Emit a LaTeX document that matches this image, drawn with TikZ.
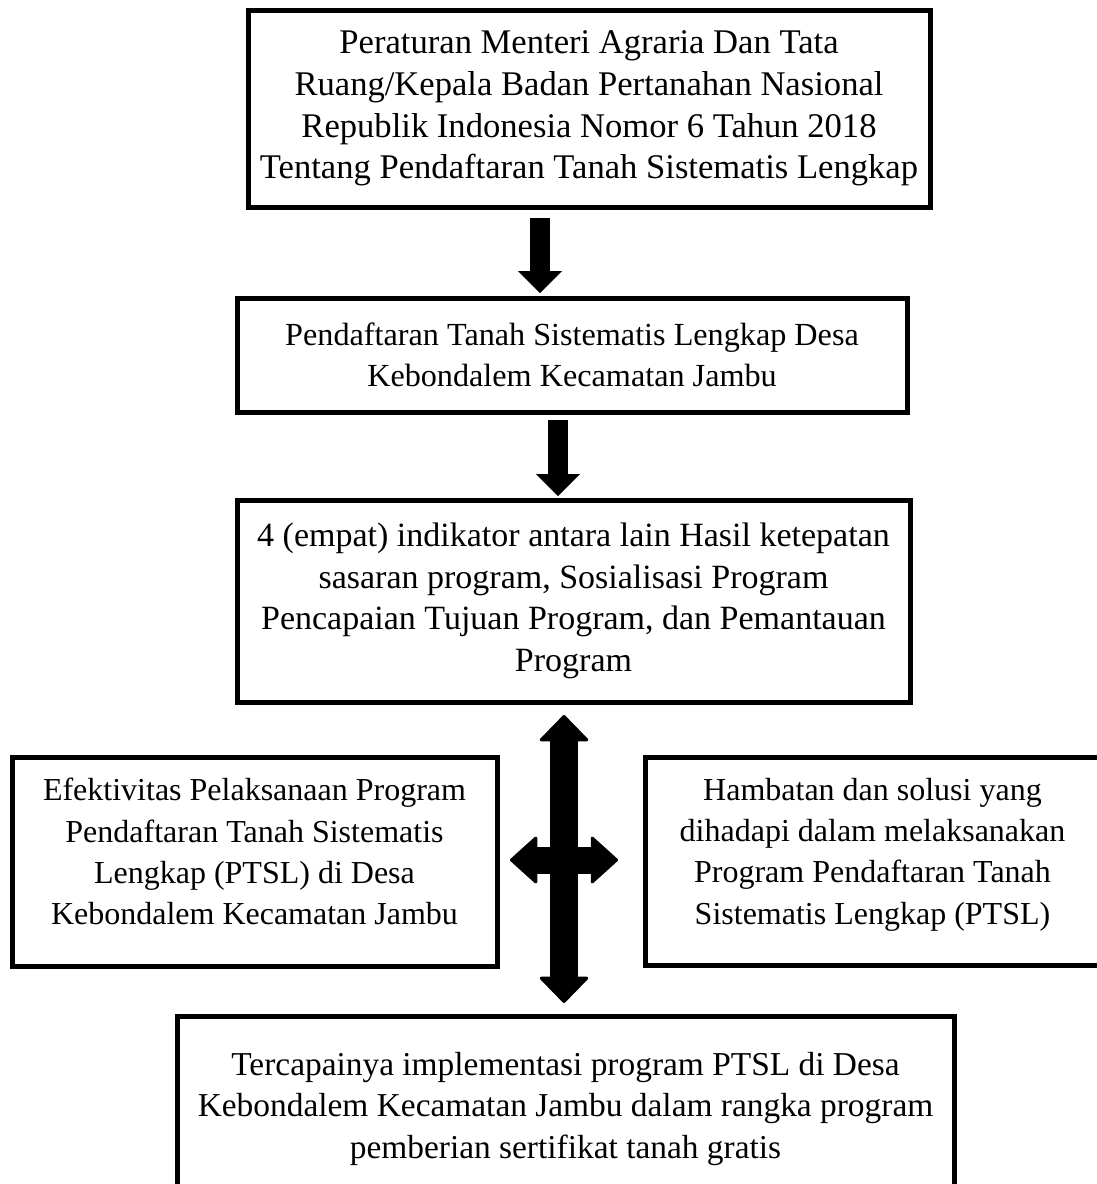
\documentclass[tikz,border=0pt]{standalone}
\usepackage{fontspec}
\setmainfont{Liberation Serif}
\usetikzlibrary{arrows.meta}

\begin{document}
\begin{tikzpicture}[
    x=0.5pt, y=-0.5pt,
    box/.style={rectangle, draw, line width=2.5pt, align=center, inner sep=0pt, font=\fontsize{16.8}{20.8}\selectfont},
    sidebox/.style={box, text depth=10pt, font=\fontsize{16}{20.7}\selectfont},
    blockdown/.style={line width=10pt, -{Triangle[width=22pt, length=11pt, line width=0pt]}},
    blockboth/.style={line width=14pt, {Triangle[round, width=26pt, length=13.5pt, line width=1.5pt]}-{Triangle[round, width=26pt, length=13.5pt, line width=1.5pt]}},
    blockside/.style={line width=13.5pt, {Triangle[round, width=25pt, length=14pt, line width=1.5pt]}-{Triangle[round, width=25pt, length=14pt, line width=1.5pt]}}
]
    \useasboundingbox (0,0) rectangle (1097,1184);

    % Dasar hukum
    \node[box, font=\fontsize{17.3}{20.8}\selectfont, minimum width=341pt, minimum height=98.5pt] (regulasi) at (589,108.5) {Peraturan Menteri Agraria Dan Tata\\Ruang/Kepala Badan Pertanahan Nasional\\Republik Indonesia Nomor 6 Tahun 2018\\Tentang Pendaftaran Tanah Sistematis Lengkap};

    % Program di desa
    \node[box, font=\fontsize{16.1}{20.8}\selectfont, minimum width=335pt, minimum height=57pt] (desa) at (572,355) {Pendaftaran Tanah Sistematis Lengkap Desa\\Kebondalem Kecamatan Jambu};

    % Indikator
    \node[box, font=\fontsize{17}{20.8}\selectfont, minimum width=336.5pt, minimum height=101pt] (indikator) at (573.5,601) {4 (empat) indikator antara lain Hasil ketepatan\\sasaran program, Sosialisasi Program\\Pencapaian Tujuan Program, dan Pemantauan\\Program};

    % Efektivitas dan hambatan
    \node[sidebox, minimum width=242.5pt, minimum height=104.5pt] (efektivitas) at (254.5,861.5) {Efektivitas Pelaksanaan Program\\Pendaftaran Tanah Sistematis\\Lengkap (PTSL) di Desa\\Kebondalem Kecamatan Jambu};
    \node[sidebox, minimum width=227.5pt, minimum height=104pt] (hambatan) at (872.5,861) {Hambatan dan solusi yang\\dihadapi dalam melaksanakan\\Program Pendaftaran Tanah\\Sistematis Lengkap (PTSL)};

    % Hasil
    \node[box, font=\fontsize{16.7}{20.8}\selectfont, minimum width=388.5pt, minimum height=92.5pt] (hasil) at (565.5,1109) {Tercapainya implementasi program PTSL di Desa\\Kebondalem Kecamatan Jambu dalam rangka program\\pemberian sertifikat tanah gratis};

    % Ujung panah
    \coordinate (p1a) at (540,218);
    \coordinate (p1b) at (540,293);
    \coordinate (p2a) at (558,420);
    \coordinate (p2b) at (558,496);
    \coordinate (vtop) at (564,715);
    \coordinate (vbot) at (564,1003);
    \coordinate (hleft) at (510,860);
    \coordinate (hright) at (618,860);

    % Panah
    \draw[blockdown] (p1a) -- (p1b);
    \draw[blockdown] (p2a) -- (p2b);
    \draw[blockside] (hleft) -- (hright);
    \draw[blockboth] (vtop) -- (vbot);
\end{tikzpicture}
\end{document}
